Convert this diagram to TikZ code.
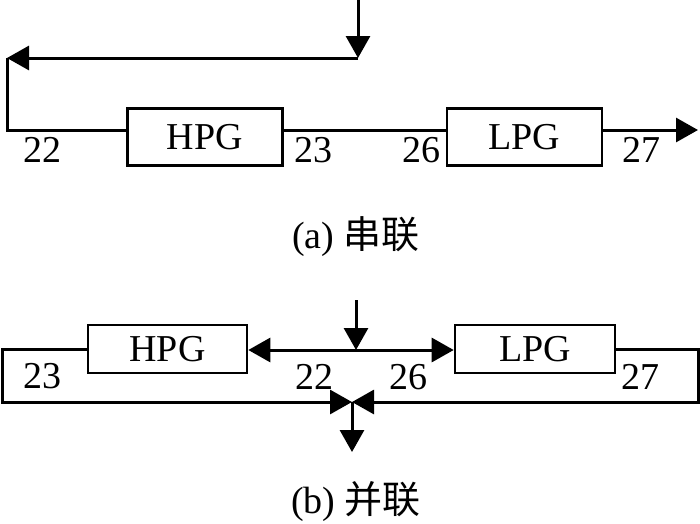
\documentclass[tikz,border=0pt]{standalone}
\usepackage{fontspec}
\setmainfont{Liberation Serif}
\newfontfamily\cjk{Noto Sans CJK SC}
\usetikzlibrary{arrows.meta}
\begin{document}
\begin{tikzpicture}[x=1pt,y=-1pt,>={Triangle[length=22pt,width=24pt]},line width=3pt,
  font=\fontsize{38}{42}\selectfont,
  blk/.style={draw,line width=2.6pt,minimum width=155pt,inner sep=0pt}]
\useasboundingbox (0,0) rectangle (700,523);

% (a) series
\node[blk,minimum height=57pt] (hpgA) at (205,137) {HPG};
\node[blk,minimum height=57pt] (lpgA) at (524.5,137) {LPG};
\coordinate (inA) at (358,0);
\coordinate (mA) at (358,58);
\coordinate (lA) at (7,58);
\coordinate (cA) at (7,130);
\coordinate (outA) at (698,130);
\draw[->] (inA)--(mA);
\draw[->] (mA)--(lA);
\draw (lA)--(cA)--(hpgA.west|-cA);
\draw (hpgA.east|-cA)--(lpgA.west|-cA);
\draw[->] (lpgA.east|-cA)--(outA);
\node (t22a) at (42,150){22};
\node (t23a) at (313,150){23};
\node (t26a) at (421,150){26};
\node (t27a) at (641,150){27};
\node (capA) at (356,237){(a) {\cjk 串联}};

% (b) parallel
\node[blk,minimum width=159pt,minimum height=48pt] (hpgB) at (167.5,349) {HPG};
\node[blk,minimum width=160pt,minimum height=48pt] (lpgB) at (535,349) {LPG};
\coordinate (inB) at (356,300);
\coordinate (mB) at (356,350);
\coordinate (jB) at (352,402);
\coordinate (outB) at (352,452);
\draw[->] (inB)--(mB);
\draw[->] (mB)--(hpgB.east|-mB);
\draw[->] (mB)--(lpgB.west|-mB);
\draw[->] (hpgB.west)--(2,349)--(2,402)--(jB);
\draw[->] (lpgB.east)--(698,349)--(698,402)--(jB);
\draw[->] (jB)--(outB);
\node (t23b) at (42,376){23};
\node (t22b) at (314,377){22};
\node (t26b) at (408,377){26};
\node (t27b) at (640,377){27};
\node (capB) at (356,502){(b) {\cjk 并联}};
\end{tikzpicture}
\end{document}
